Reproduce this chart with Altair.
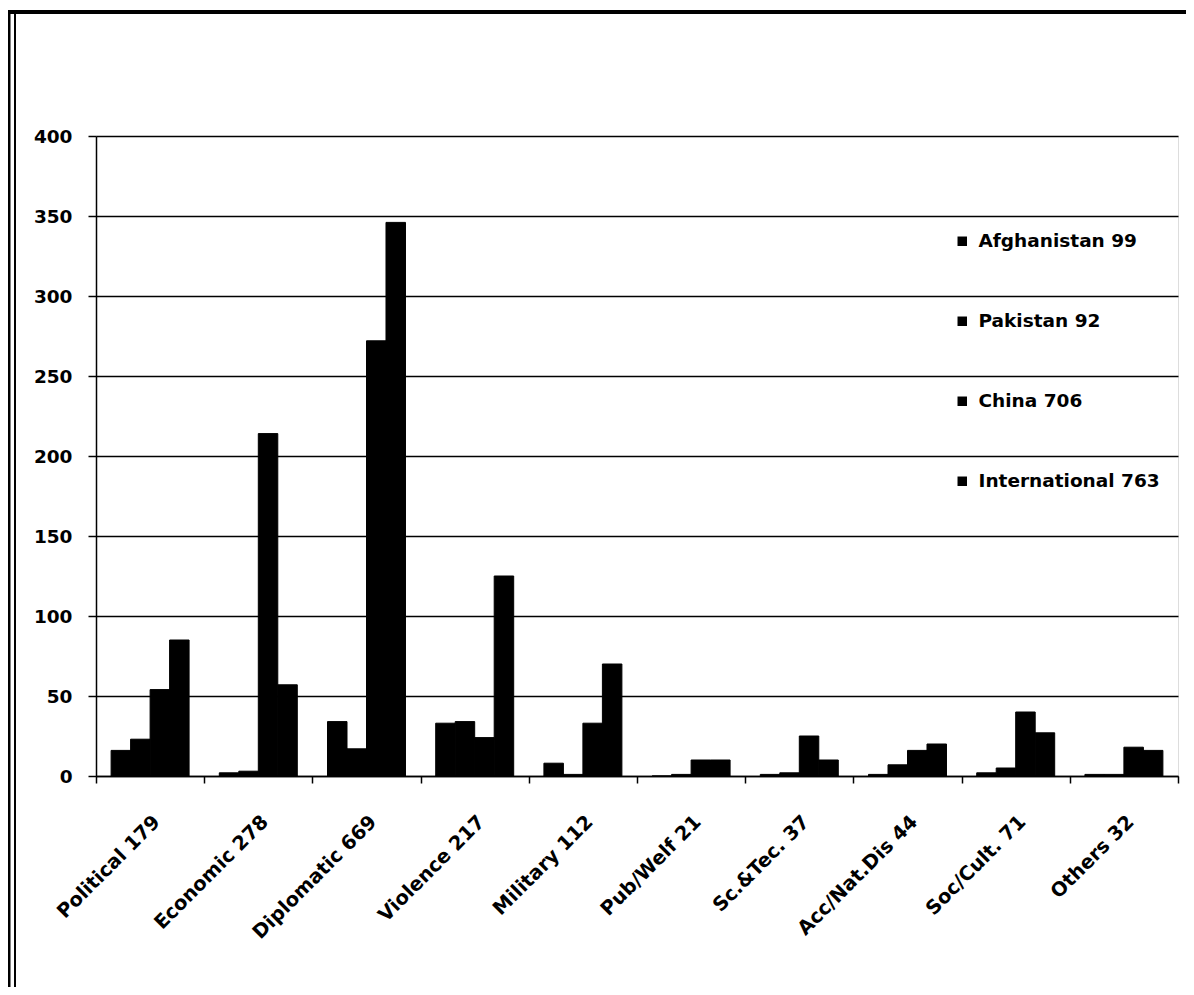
import altair as alt
import pandas as pd

categories = ["Political 179", "Economic 278", "Diplomatic 669", "Violence 217",
              "Military 112", "Pub/Welf  21", "Sc.&Tec. 37", "Acc/Nat.Dis 44",
              "Soc/Cult. 71", "Others 32"]
series = ["Afghanistan 99", "Pakistan 92", "China 706", "International 763"]

afghanistan = [16, 2, 34, 33, 8, 0, 1, 1, 2, 1]
pakistan = [23, 3, 17, 34, 1, 1, 2, 7, 5, 1]
china = [54, 214, 272, 24, 33, 10, 25, 16, 40, 18]
international = [85, 57, 346, 125, 70, 10, 10, 20, 27, 16]

y_ticks = [0, 50, 100, 150, 200, 250, 300, 350, 400]

rows = []
for i, c in enumerate(categories):
    for s, vals in zip(series, [afghanistan, pakistan, china, international]):
        rows.append({"category": c, "series": s, "value": vals[i]})
df = pd.DataFrame(rows)

FONT = "DejaVu Sans"

bars = alt.Chart(df).mark_bar(color="black", stroke="black", strokeWidth=1).encode(
    x=alt.X("category:N", sort=categories,
            scale=alt.Scale(paddingInner=0, paddingOuter=0),
            axis=alt.Axis(title=None, labelAngle=-45, tickBand="extent",
                          labelFont=FONT, labelFontWeight="bold", labelFontSize=19.5,
                          labelColor="black", labelPadding=29,
                          domainColor="black", domainWidth=1.5,
                          tickColor="black", tickWidth=1.5, tickSize=7, grid=False)),
    xOffset=alt.XOffset("series:N", sort=series,
                        scale=alt.Scale(paddingInner=0, paddingOuter=0.775)),
    y=alt.Y("value:Q", scale=alt.Scale(domain=[0, 400], nice=False),
            axis=alt.Axis(title=None, values=y_ticks, labelFont=FONT,
                          labelFontWeight="bold", labelFontSize=18.5, labelColor="black",
                          labelPadding=16, domainColor="black", domainWidth=1.5,
                          tickColor="black", tickWidth=1.5, tickSize=8,
                          grid=True, gridColor="black", gridWidth=1.5, gridOpacity=1)),
    color=alt.Color("series:N", sort=series,
                    scale=alt.Scale(domain=series, range=["black"] * 4),
                    legend=alt.Legend(title=None, orient="none", legendX=857, legendY=96,
                                      symbolType="square", symbolSize=90,
                                      symbolStrokeWidth=0, symbolFillColor="black",
                                      labelFont=FONT, labelFontWeight="bold",
                                      labelFontSize=18.5, labelColor="black",
                                      labelLimit=400,
                                      rowPadding=61, labelOffset=7)),
)

frame_df = pd.DataFrame({"a": [0]})
left1 = alt.Chart(frame_df).mark_rule(color="black", strokeWidth=3).encode(
    x=alt.value(-87), y=alt.value(-126), y2=alt.value(860))
left2 = alt.Chart(frame_df).mark_rule(color="black", strokeWidth=2).encode(
    x=alt.value(-81), y=alt.value(-126), y2=alt.value(860))
top = alt.Chart(frame_df).mark_rule(color="black", strokeWidth=4).encode(
    x=alt.value(-88.5), x2=alt.value(1100), y=alt.value(-124))

chart = alt.layer(bars, left1, left2, top).properties(
    width=1082, height=640,
    padding={"left": 88, "top": 128, "right": 8, "bottom": 211},
    autosize=alt.AutoSizeParams(type="none"),
).configure_view(stroke=None).configure(background="white")

chart.save("out.html", embed_options={"renderer": "svg", "actions": False})
